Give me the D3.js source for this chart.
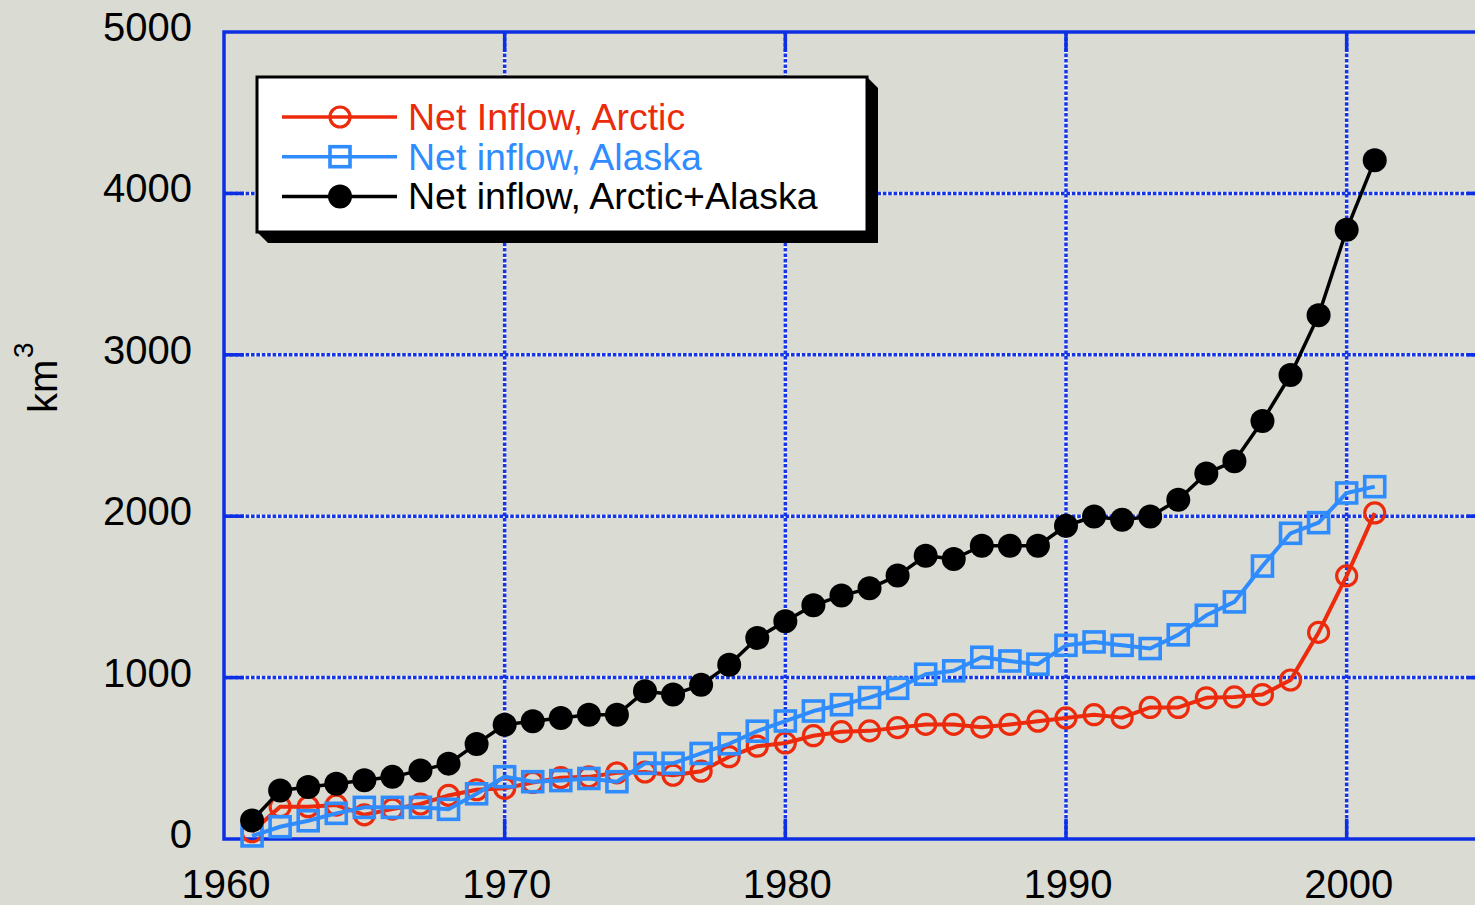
<!DOCTYPE html>
<html>
<head>
<meta charset="utf-8">
<script src="https://cdn.jsdelivr.net/npm/d3@7"></script>
<style>
  html, body { margin: 0; padding: 0; background: #dadbd3; }
  svg { display: block; font-family: "Liberation Sans", Arial, Helvetica, sans-serif; }
</style>
</head>
<body>
<svg id="chart" width="1475" height="905"></svg>
<script>
const years = [1961, 1962, 1963, 1964, 1965, 1966, 1967, 1968, 1969, 1970,
  1971, 1972, 1973, 1974, 1975, 1976, 1977, 1978, 1979, 1980,
  1981, 1982, 1983, 1984, 1985, 1986, 1987, 1988, 1989, 1990,
  1991, 1992, 1993, 1994, 1995, 1996, 1997, 1998, 1999, 2000, 2001]

const arctic = [45, 200, 200, 210, 150, 185, 217, 270, 305, 314,
  350, 380, 385, 410, 415, 395, 420, 510, 575, 595,
  640, 665, 670, 690, 710, 710, 693, 710, 730, 750,
  770, 752, 815, 815, 875, 880, 895, 985, 1280, 1630, 2020]

const alaska = [19, 76, 113, 159, 196, 196, 196, 184, 280, 386,
  355, 362, 375, 355, 469, 469, 530, 590, 668, 731,
  793, 832, 876, 934, 1021, 1042, 1126, 1103, 1083, 1200,
  1221, 1200, 1180, 1265, 1386, 1469, 1691, 1894, 1960, 2144, 2183]

const combined = [115, 300, 322, 343, 364, 385, 425, 467, 589, 708,
  730, 750, 770, 770, 915, 895, 955, 1080, 1246, 1349,
  1448, 1508, 1553, 1632, 1755, 1735, 1817, 1817, 1817, 1941,
  1998, 1978, 1998, 2102, 2265, 2341, 2590, 2875, 3245, 3775, 4206]

const xTicks = [1960, 1970, 1980, 1990, 2000]
const yTicks = [0, 1000, 2000, 3000, 4000, 5000]

const seriesList = [
  { name: 'Net Inflow, Arctic', values: arctic, color: '#ec2a0c', marker: 'circle' },
  { name: 'Net inflow, Alaska', values: alaska, color: '#2f8cff', marker: 'square' },
  { name: 'Net inflow, Arctic+Alaska', values: combined, color: '#000000', marker: 'dot' },
]

const svg = d3.select('#chart')
const frameColor = '#0d2fe4'

const x = d3.scaleLinear().domain([1960, 2005]).range([224, 1487])
const y = d3.scaleLinear().domain([0, 5000]).range([839, 32])

// grid: white underlay with blue dots on top
const grid = svg.append('g').attr('class', 'grid')
const gridX = xTicks.filter((t) => t > 1960)
const gridY = yTicks.filter((t) => t > 0 && t < 5000)

function gridLines(color, dash) {
  grid.selectAll(null).data(gridX).enter().append('line')
    .attr('x1', (d) => x(d)).attr('x2', (d) => x(d))
    .attr('y1', y(5000)).attr('y2', y(0))
    .attr('stroke', color).attr('stroke-width', 3.5)
    .attr('stroke-dasharray', dash)
  grid.selectAll(null).data(gridY).enter().append('line')
    .attr('y1', (d) => y(d)).attr('y2', (d) => y(d))
    .attr('x1', x(1960)).attr('x2', x(2005))
    .attr('stroke', color).attr('stroke-width', 3.5)
    .attr('stroke-dasharray', dash)
}
gridLines('#ffffff', null)
gridLines('#1434e6', '3.6,1.8')

// frame
svg.append('rect')
  .attr('x', x(1960)).attr('y', y(5000))
  .attr('width', x(2005) - x(1960)).attr('height', y(0) - y(5000))
  .attr('fill', 'none').attr('stroke', frameColor).attr('stroke-width', 3.5)

// inward ticks on all four sides
const tickLen = 20
const ticks = svg.append('g').attr('stroke', frameColor).attr('stroke-width', 3.5)
gridX.forEach((t) => {
  ticks.append('line').attr('x1', x(t)).attr('x2', x(t)).attr('y1', y(0)).attr('y2', y(0) - tickLen)
  ticks.append('line').attr('x1', x(t)).attr('x2', x(t)).attr('y1', y(5000)).attr('y2', y(5000) + tickLen)
})
gridY.forEach((t) => {
  ticks.append('line').attr('y1', y(t)).attr('y2', y(t)).attr('x1', x(1960)).attr('x2', x(1960) + tickLen)
  ticks.append('line').attr('y1', y(t)).attr('y2', y(t)).attr('x1', x(2005)).attr('x2', x(2005) - tickLen)
})

// tick labels
svg.append('g').selectAll('text').data(yTicks).enter().append('text')
  .attr('x', 192).attr('y', (d) => y(d) + 9)
  .attr('text-anchor', 'end')
  .style('font-size', '40px')
  .attr('fill', '#000')
  .text((d) => d)

svg.append('g').selectAll('text').data(xTicks).enter().append('text')
  .attr('x', (d) => x(d) + 2).attr('y', 898)
  .attr('text-anchor', 'middle')
  .style('font-size', '40px')
  .attr('fill', '#000')
  .text((d) => d)

// y axis title
const yTitle = svg.append('g').attr('transform', 'translate(57,413) rotate(-90)')
yTitle.append('text').attr('x', 0).attr('y', 0).style('font-size', '40px').text('km')
yTitle.append('text').attr('x', 55).attr('y', -24).style('font-size', '28px').text('3')

// markers
function drawMarker(sel, s, cx, cy) {
  if (s.marker === 'circle') {
    sel.append('circle').attr('cx', cx).attr('cy', cy).attr('r', 10)
      .attr('fill', 'none').attr('stroke', s.color).attr('stroke-width', 3.2)
  } else if (s.marker === 'square') {
    sel.append('rect').attr('x', cx - 10).attr('y', cy - 10)
      .attr('width', 20).attr('height', 20)
      .attr('fill', 'none').attr('stroke', s.color).attr('stroke-width', 3.6)
  } else {
    sel.append('circle').attr('cx', cx).attr('cy', cy).attr('r', 12)
      .attr('fill', s.color)
  }
}

const line = d3.line()
  .x((d) => x(d[0]))
  .y((d) => y(d[1]))

const plot = svg.append('g').attr('class', 'series')
seriesList.forEach((s) => {
  const pts = years.map((yr, i) => [yr, s.values[i]])
  const g = plot.append('g').attr('data-series', s.name)
  g.append('path')
    .datum(pts)
    .attr('d', line)
    .attr('fill', 'none')
    .attr('stroke', s.color)
    .attr('stroke-width', s.marker === 'dot' ? 3.5 : 4)
    .attr('stroke-linejoin', 'round')
  pts.forEach((p) => drawMarker(g, s, x(p[0]), y(p[1])))
})

// legend with drop shadow
const lx0 = 257, ly0 = 77, lx1 = 867, ly1 = 232, sh = 11
const legend = svg.append('g').attr('class', 'legend')
legend.append('polygon')
  .attr('points', [
    [lx0, ly1], [lx0 + sh, ly1 + sh], [lx1 + sh, ly1 + sh], [lx1 + sh, ly0 + sh], [lx1, ly0],
  ].map((p) => p.join(',')).join(' '))
  .attr('fill', '#000')
legend.append('rect')
  .attr('x', lx0).attr('y', ly0)
  .attr('width', lx1 - lx0).attr('height', ly1 - ly0)
  .attr('fill', '#fff').attr('stroke', '#000').attr('stroke-width', 3)

seriesList.forEach((s, i) => {
  const ry = 117 + i * 39.7
  legend.append('line')
    .attr('x1', 282).attr('x2', 397).attr('y1', ry).attr('y2', ry)
    .attr('stroke', s.color).attr('stroke-width', 3.5)
  drawMarker(legend, s, 340, ry)
  legend.append('text')
    .attr('x', 408).attr('y', ry + 13)
    .style('font-size', '37.5px')
    .attr('fill', s.color)
    .text(s.name)
})
</script>
</body>
</html>
